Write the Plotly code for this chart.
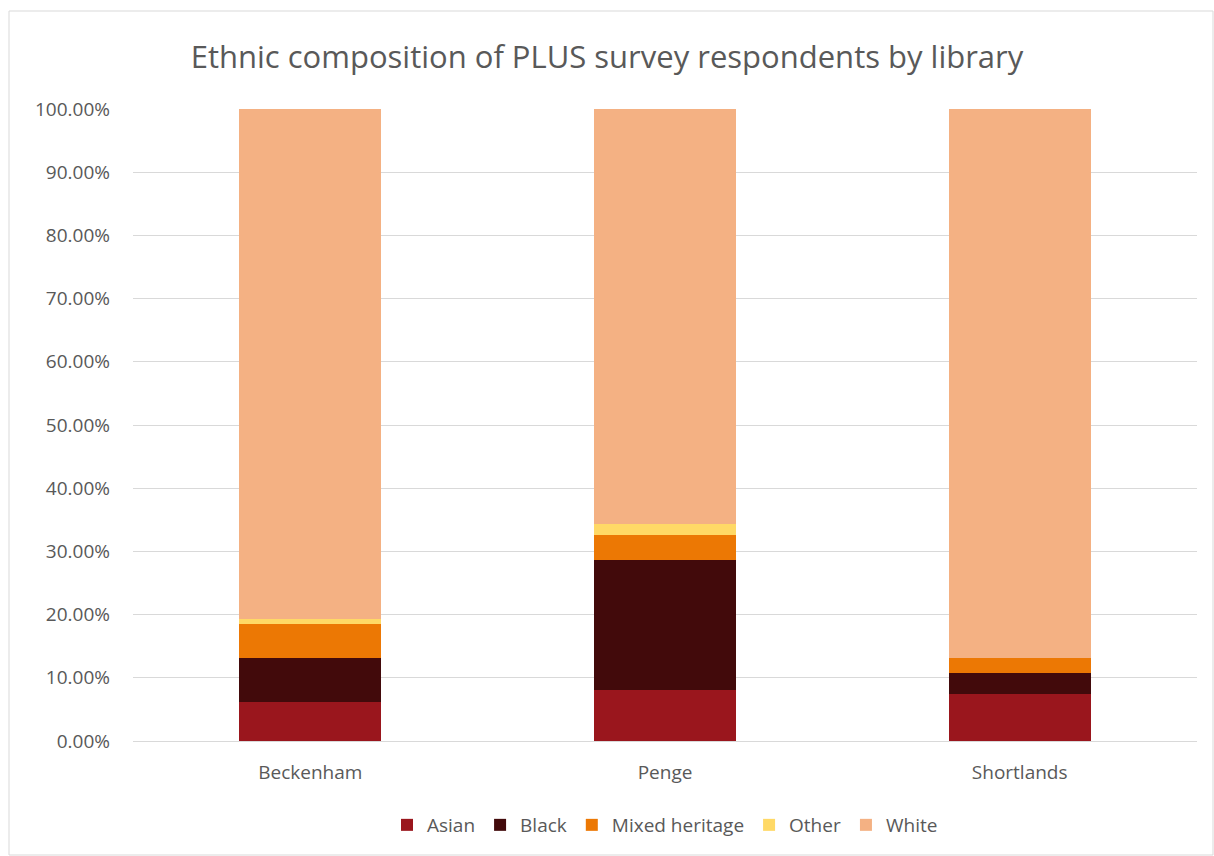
import plotly.graph_objects as go

libraries = ["Beckenham", "Penge", "Shortlands"]
asian = [0.0617, 0.0800, 0.0748]
black = [0.0696, 0.2070, 0.0322]
mixed = [0.0532, 0.0390, 0.0240]
other = [0.0085, 0.0180, 0.0000]
white = [0.8070, 0.6560, 0.8690]

series = [
    ("Asian", asian, "#9A161D"),
    ("Black", black, "#420A0B"),
    ("Mixed heritage", mixed, "#EC7804"),
    ("Other", other, "#FFD966"),
    ("White", white, "#F4B183"),
]

fig = go.Figure()
for name, vals, col in series:
    fig.add_trace(go.Bar(x=libraries, y=vals, name=name, marker=dict(color=col, line=dict(width=0))))

font_family = "Open Sans, Liberation Sans, sans-serif"
fig.update_layout(
    barmode="stack",
    bargap=0.6,
    width=1214, height=856,
    margin=dict(l=133, r=17, t=109, b=115),
    paper_bgcolor="white", plot_bgcolor="white",
    font=dict(family=font_family, color="#595959", size=19),
    title=dict(text="Ethnic composition of PLUS survey respondents by library",
               x=0.5, xanchor="center", y=1 - 57/856, yanchor="middle",
               font=dict(size=31, color="#595959", family=font_family)),
    yaxis=dict(range=[0, 1], tickvals=[i/10 for i in range(11)], tickformat=".2%",
               showgrid=True, gridcolor="#D9D9D9", gridwidth=1, zeroline=False,
               showline=False, ticks="", ticklabelstandoff=22,
               tickfont=dict(size=19, color="#595959")),
    xaxis=dict(showline=True, linecolor="#D9D9D9", linewidth=1, ticks="",
               ticklabelstandoff=14, tickfont=dict(size=19, color="#595959")),
    legend=dict(orientation="h", x=0.5, xanchor="center", y=(741-825)/632, yanchor="middle",
                font=dict(size=19, color="#595959"), traceorder="normal",
                itemwidth=30, itemsizing="constant"),
    showlegend=True,
)
fig.add_shape(type="rect", xref="paper", yref="paper",
              x0=(9-133)/1064, x1=(1213-133)/1064,
              y0=(741-855)/632, y1=(741-11)/632,
              line=dict(color="#D9D9D9", width=1), fillcolor="rgba(0,0,0,0)", layer="below")

fig.write_html("out.html")
